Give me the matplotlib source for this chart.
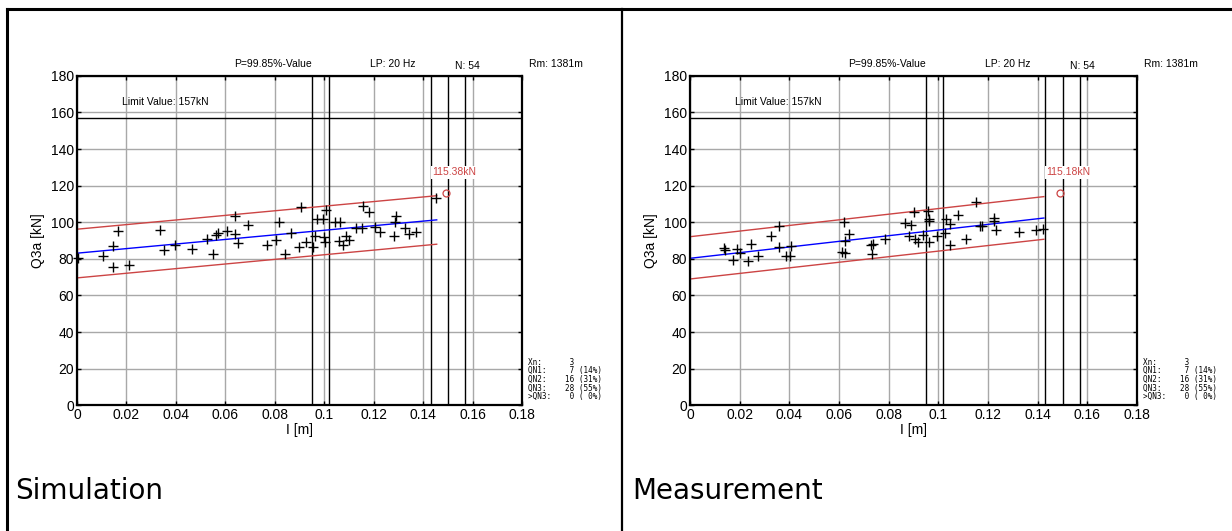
import matplotlib
matplotlib.use("Agg")
import matplotlib.pyplot as plt
from matplotlib.lines import Line2D

# --------------------------
# Datos: Simulation
# --------------------------
sim_x = [0.0005, 0.0106, 0.0144, 0.0147, 0.0165, 0.0212, 0.0336, 0.0353, 0.0398, 0.0465,
         0.0525, 0.0549, 0.0561, 0.0569, 0.0608, 0.0638, 0.0638, 0.0650, 0.0692, 0.0769,
         0.0805, 0.0818, 0.0841, 0.0867, 0.0897, 0.0905, 0.0925, 0.0953, 0.0963, 0.0970,
         0.0996, 0.1000, 0.1003, 0.1007, 0.1044, 0.1064, 0.1061, 0.1075, 0.1088, 0.1100,
         0.1129, 0.1152, 0.1156, 0.1181, 0.1204, 0.1226, 0.1282, 0.1285, 0.1290, 0.1328,
         0.1342, 0.1370, 0.1452]
sim_y = [80.3, 81.4, 75.7, 87.2, 95.4, 76.5, 95.8, 84.7, 87.6, 85.2,
         91.0, 82.5, 93.1, 94.3, 95.1, 103.3, 93.4, 88.9, 98.4, 87.4,
         90.3, 100.2, 82.8, 94.3, 86.5, 108.2, 89.1, 86.7, 92.5, 102.0,
         102.0, 91.8, 89.1, 106.6, 100.2, 100.2, 89.9, 87.6, 92.7, 90.3,
         96.7, 96.9, 109.1, 105.5, 97.6, 94.9, 92.7, 100.2, 103.6, 96.7,
         93.6, 94.5, 113.3]
sim_fit_x = [0.0, 0.1455]
sim_fit = [83.1, 101.3]
sim_upper = [96.2, 114.5]
sim_lower = [69.6, 88.0]
sim_p = (0.1492, 116.2)
sim_p_label = "115.38kN"

# --------------------------
# Datos: Measurement
# --------------------------
mea_x = [0.0136, 0.0142, 0.0173, 0.0189, 0.0200, 0.0232, 0.0247, 0.0272, 0.0325, 0.0357,
         0.0357, 0.0388, 0.0404, 0.0405, 0.0612, 0.0625, 0.0621, 0.0623, 0.0640, 0.0730,
         0.0735, 0.0734, 0.0784, 0.0865, 0.0888, 0.0880, 0.0901, 0.0907, 0.0920, 0.0939,
         0.0957, 0.0962, 0.0963, 0.0963, 0.0996, 0.1032, 0.1028, 0.1045, 0.1045, 0.1081,
         0.1113, 0.1153, 0.1169, 0.1177, 0.1224, 0.1226, 0.1233, 0.1323, 0.1395, 0.1423]
mea_y = [85.8, 85.0, 79.6, 85.6, 83.1, 78.9, 88.1, 81.7, 92.3, 98.0,
         86.7, 81.4, 81.7, 87.0, 83.8, 83.1, 100.2, 89.8, 93.6, 87.6,
         88.0, 82.7, 90.9, 99.5, 98.7, 92.5, 105.8, 90.7, 89.1, 93.2,
         106.2, 101.8, 100.5, 89.2, 92.7, 101.8, 94.0, 99.2, 87.6, 104.0,
         90.7, 111.3, 98.0, 98.0, 102.2, 100.9, 95.8, 94.5, 95.8, 96.5]
mea_fit_x = [0.0, 0.1425]
mea_fit = [80.3, 102.3]
mea_upper = [92.1, 114.0]
mea_lower = [69.0, 90.7]
mea_p = (0.1488, 116.2)
mea_p_label = "115.18kN"

limite = 157
lineas_v = [0.095, 0.102, 0.143, 0.150, 0.157]
xticks = [0, 0.02, 0.04, 0.06, 0.08, 0.1, 0.12, 0.14, 0.16, 0.18]
xtick_labels = ["0", "0.02", "0.04", "0.06", "0.08", "0.1", "0.12", "0.14", "0.16", "0.18"]
yticks = [0, 20, 40, 60, 80, 100, 120, 140, 160, 180]
stats = "Xn:      3\nQN1:     7 (14%)\nQN2:    16 (31%)\nQN3:    28 (55%)\n>QN3:    0 ( 0%)"

plt.rcParams['font.family'] = ['Liberation Sans', 'DejaVu Sans']

W, H = 1232, 531
fig = plt.figure(figsize=(W / 100, H / 100), dpi=100)


def panel(left_px, right_px, xs, ys, fx, fit, up, lo, p, p_label, titulo, titulo_px):
    ax = fig.add_axes([left_px / W, (H - 405.3) / H, (right_px - left_px) / W, 329.5 / H])
    ax.set_xlim(0, 0.18)
    ax.set_ylim(0, 180)
    ax.set_xticks(xticks)
    ax.set_xticklabels(xtick_labels)
    ax.set_yticks(yticks)
    ax.grid(True, color='#a8a8a8', linewidth=1.0)
    ax.set_axisbelow(True)
    ax.tick_params(direction='in', length=3, width=1, labelsize=10, pad=2,
                   top=True, right=True)
    for s in ax.spines.values():
        s.set_linewidth(1.6)

    # limite y lineas verticales
    ax.axhline(limite, color='black', linewidth=1.0)
    for xv in lineas_v:
        ax.axvline(xv, color='black', linewidth=1.0)

    # regresion y banda
    ax.plot(fx, up, color='#cc4444', linewidth=1.0)
    ax.plot(fx, lo, color='#cc4444', linewidth=1.0)
    ax.plot(fx, fit, color='#0000ff', linewidth=1.0)
    ax.plot(xs, ys, '+', color='black', markersize=7, markeredgewidth=1.0, clip_on=False)

    # valor P
    ax.plot([p[0]], [p[1]], 'o', color='#cc4444', markersize=5, fillstyle='none',
            markeredgewidth=0.9)
    ax.text(p[0] + 0.0035, p[1] + 11, p_label, color='#cc4444', fontsize=7.5,
            ha='center', va='center', zorder=5,
            bbox=dict(facecolor='white', edgecolor='none', pad=1))

    # textos
    ax.text(0.10, 165.5 / 180, "Limit Value: 157kN", fontsize=7.5, va='center',
            transform=ax.transAxes)
    ax.text(0.44, 1.036, "P=99.85%-Value", fontsize=7.5, ha='center', va='center',
            transform=ax.transAxes)
    ax.text(0.71, 1.036, "LP: 20 Hz", fontsize=7.5, ha='center', va='center',
            transform=ax.transAxes)
    ax.text(0.878, 1.030, "N: 54", fontsize=7.5, ha='center', va='center',
            transform=ax.transAxes)
    ax.text(1.015, 1.036, "Rm: 1381m", fontsize=7.5, ha='left', va='center',
            transform=ax.transAxes)
    ax.text(1.013, 0.145, stats, fontsize=5.5, family='DejaVu Sans Mono',
            ha='left', va='top', linespacing=0.95, transform=ax.transAxes)

    ax.set_ylabel("Q3a [kN]", fontsize=10, labelpad=4)
    ax.set_xlabel("I [m]", fontsize=10, labelpad=1)
    fig.text(titulo_px / W, 1 - 491 / H, titulo, fontsize=20, family='DejaVu Sans',
             ha='left', va='center')
    return ax


panel(77, 522, sim_x, sim_y, sim_fit_x, sim_fit, sim_upper, sim_lower,
      sim_p, sim_p_label, "Simulation", 15)
panel(690, 1137, mea_x, mea_y, mea_fit_x, mea_fit, mea_upper, mea_lower,
      mea_p, mea_p_label, "Measurement", 632)

# marco exterior
fig.add_artist(Line2D([6.5 / W, 6.5 / W], [0, 1 - 9 / H], color='black', linewidth=2.2))
fig.add_artist(Line2D([6.5 / W, 1], [1 - 9 / H, 1 - 9 / H], color='black', linewidth=2.2))
fig.add_artist(Line2D([621.7 / W, 621.7 / W], [0, 1 - 9 / H], color='black', linewidth=1.6))

fig.savefig("out.png", dpi=100)
